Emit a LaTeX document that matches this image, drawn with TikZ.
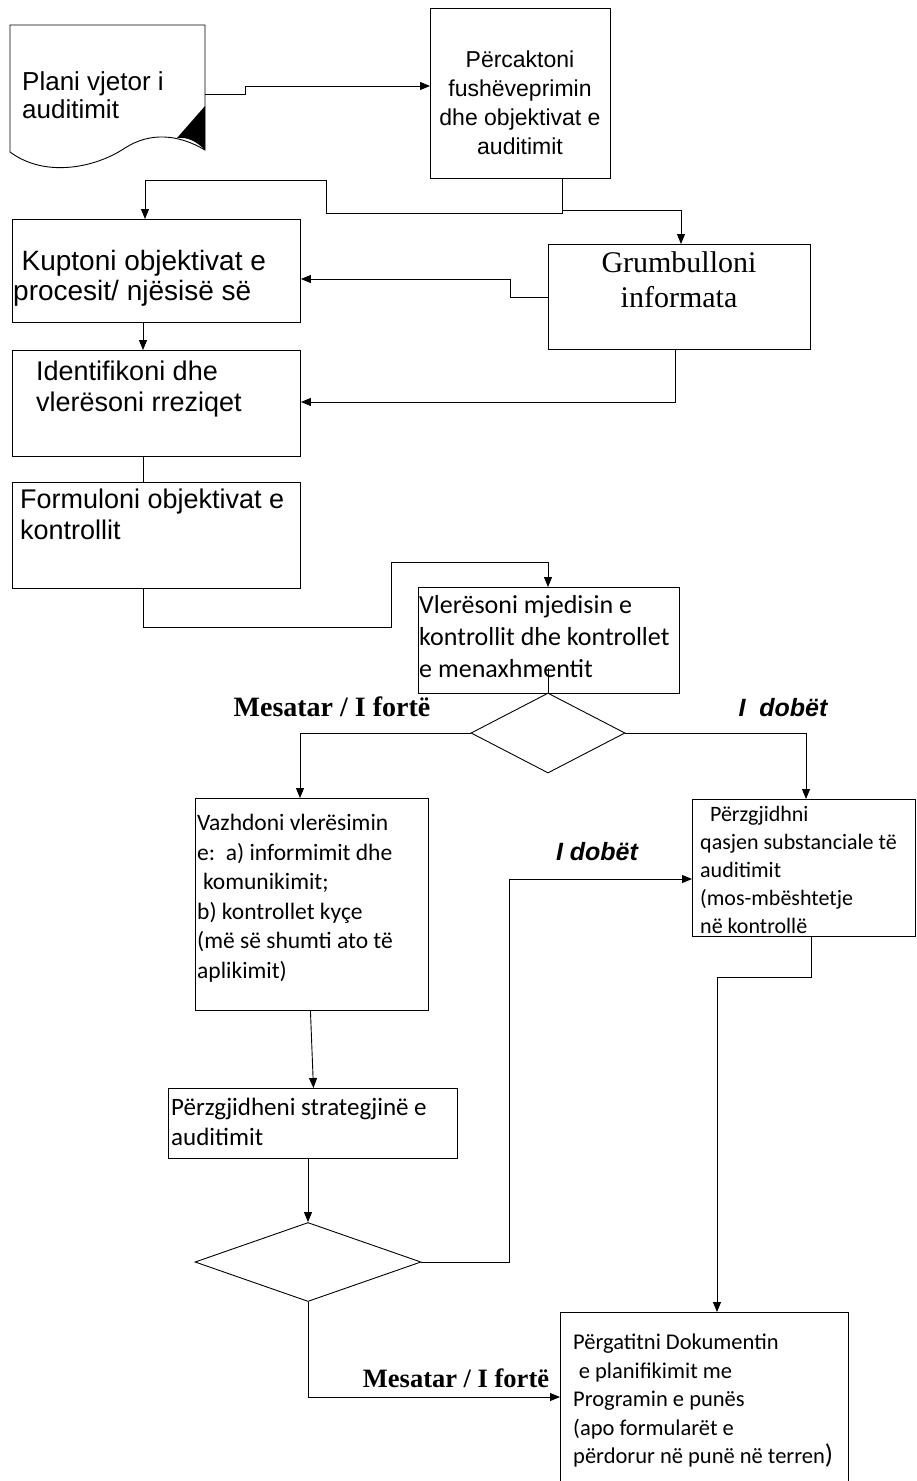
\documentclass[tikz,border=0pt]{standalone}
\usepackage{fontspec}
\setmainfont{Liberation Sans}
\newfontfamily\arialf{Liberation Sans}
\newfontfamily\timesf{Liberation Serif}
\newfontfamily\calib{Carlito}
\usetikzlibrary{arrows.meta,shapes.geometric}
\begin{document}
\begin{tikzpicture}[x=1pt,y=-1pt,
  box/.style={draw=black,line width=0.9pt,fill=white,inner sep=0pt,anchor=north west},
  lbl/.style={inner sep=0pt,anchor=north west,align=left},
  arr/.style={-{Triangle[length=10pt,width=8pt]},line width=0.9pt},
  ln/.style={line width=0.9pt},
  dia/.style={draw,diamond,inner sep=0pt,line width=0.9pt},
  sansA/.style={font=\arialf\fontsize{26}{28}\selectfont},
  sansB/.style={font=\arialf\fontsize{27}{31}\selectfont},
  calA/.style={font=\calib\fontsize{22}{28}\selectfont},
  tlabel/.style={inner sep=0pt,font=\timesf\bfseries\fontsize{28}{30}\selectfont},
  alabel/.style={inner sep=0pt,font=\arialf\bfseries\itshape\fontsize{25}{28}\selectfont},
]
\useasboundingbox (0,0) rectangle (916,1481);
\fill[white] (0,0) rectangle (916,1481);
\clip (0,0) rectangle (916,1481);

% document shape
\node[inner sep=0pt,minimum width=195pt,minimum height=125pt,anchor=north west] (doc) at (10,25) {};
\draw[ln,fill=white] (10,25) -- (205,25) -- (205,150) .. controls (178,134) and (150,132) .. (125,148) .. controls (95,168) and (45,178) .. (10,152) -- cycle;
\fill (205,106) -- (205,150) .. controls (196,141) and (188,137) .. (177,138) -- cycle;
\node[lbl,sansA] (doct) at (22,71) {Plani vjetor i\\auditimit};

% boxes
\node[box,minimum width=180pt,minimum height=170pt] (p1) at (430,8) {};
\node[inner sep=0pt,anchor=north,align=center,font=\arialf\fontsize{23}{29}\selectfont] (p1t) at (520,51) {Përcaktoni\\fushëveprimin\\dhe objektivat e\\auditimit};

\node[box,minimum width=288pt,minimum height=103pt] (k) at (12,219) {};
\node[lbl,font=\arialf\fontsize{28}{30}\selectfont] (kt) at (13,250) {\hspace*{.3em}Kuptoni objektivat e\\procesit/ njësisë së};

\node[box,minimum width=262pt,minimum height=105pt] (g) at (548,244) {};
\node[inner sep=0pt,anchor=north,align=center,font=\timesf\fontsize{30}{35}\selectfont] (gt) at (679,251) {Grumbulloni\\informata};

\node[box,minimum width=288pt,minimum height=106pt] (i) at (12,350) {};
\node[lbl,sansB] (it) at (36,361) {Identifikoni dhe\\vlerësoni rreziqet};

\node[box,minimum width=288pt,minimum height=106pt] (f) at (12,482) {};
\node[lbl,sansB] (ft) at (20,489) {Formuloni objektivat e\\kontrollit};

\node[box,minimum width=261pt,minimum height=106pt] (v) at (418,587) {};
\node[lbl,font=\calib\fontsize{26}{32}\selectfont] (vt) at (419,595) {Vlerësoni mjedisin e\\kontrollit dhe kontrollet\\e menaxhmentit};

\node[dia,minimum width=154pt,minimum height=80pt] (d1) at (548,733) {};

\node[box,minimum width=233pt,minimum height=212pt] (vz) at (195,798) {};
\node[lbl,font=\calib\fontsize{23.5}{29.5}\selectfont] (vzt) at (197,814) {Vazhdoni vlerësimin\\e:\ \ a) informimit dhe\\\hspace*{.25em}komunikimit;\\b) kontrollet kyçe\\(më së shumti ato të\\aplikimit)};

\node[box,minimum width=289pt,minimum height=70pt] (ps) at (168,1088) {};
\node[lbl,font=\calib\fontsize{25}{30}\selectfont] (pst) at (171,1098) {Përzgjidheni strategjinë e\\auditimit};

\node[dia,minimum width=226pt,minimum height=79pt] (d2) at (308,1262) {};

\node[box,minimum width=223pt,minimum height=137pt] (pq) at (692,799) {};
\node[lbl,calA] (pqt) at (700,806) {\hspace*{.45em}Përzgjidhni\\qasjen substanciale të\\auditimit\\(mos-mbështetje\\në kontrollë};

\node[box,minimum width=288pt,minimum height=200pt] (pd) at (560,1312) {};
\node[lbl,font=\calib\fontsize{22.5}{28.5}\selectfont] (pdt) at (573,1334) {Përgatitni Dokumentin\\\hspace*{.25em}e planifikimit me\\Programin e punës\\(apo formularët e\\përdorur në punë në terren{\fontsize{27}{28.5}\selectfont)}};

% labels
\node[tlabel] (m1) at (332,707) {Mesatar / I fortë};
\node[alabel] (w1) at (783,708) {I\ \ dobët};
\node[alabel] (w2) at (597,852) {I dobët};
\node[tlabel,font=\timesf\bfseries\fontsize{26.5}{30}\selectfont] (m2) at (456,1378) {Mesatar / I fortë};

% connectors
\draw[arr] (doc.east |- 0,94) -- (245,94) -- (245,86) -- (p1.west |- 0,86);
\draw[arr] (p1.south -| 562,0) -- (562,213) -- (326,213) -- (326,180) -- (145,180) -- (k.north -| 145,0);
\draw[arr] (562,210) -- (681,210) -- (g.north -| 681,0);
\draw[arr] (g.west |- 0,297) -- (510,297) -- (510,279) -- (k.east |- 0,279);
\draw[arr] (k.south -| 143,0) -- (i.north -| 143,0);
\draw[arr] (g.south -| 675,0) -- (675,402) -- (i.east |- 0,402);
\draw[ln] (i.south -| 143,0) -- (f.north -| 143,0);
\draw[arr] (f.south -| 143,0) -- (143,627) -- (391,627) -- (391,562) -- (548,562) -- (v.north -| 548,0);
\draw[ln] (d1.north) -- (548,668);
\draw[arr] (d1.west) -- (300,733) -- (vz.north -| 300,0);
\draw[arr] (d1.east) -- (806,733) -- (pq.north -| 806,0);
\draw[arr] ([xshift=-1.5pt]vz.south) -- ([xshift=0.5pt]ps.north);
\draw[arr] (ps.south -| d2.north) -- (d2.north);
\draw[arr] (d2.east) -- (509,1262) -- (509,879) -- (pq.west |- 0,879);
\draw[arr] (d2.south) -- (308,1397) -- (pd.west |- 0,1397);
\draw[arr] (pq.south -| 811,0) -- (811,977) -- (717,977) -- (pd.north -| 717,0);
\end{tikzpicture}
\end{document}
